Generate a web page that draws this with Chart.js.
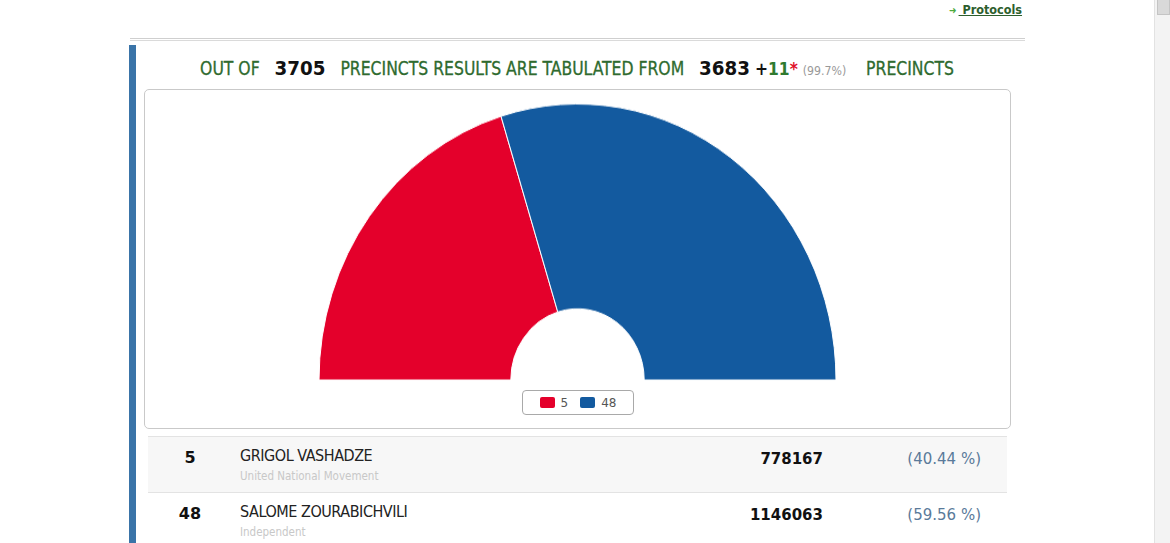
<!DOCTYPE html>
<html>
<head>
<meta charset="utf-8">
<script src="https://cdn.jsdelivr.net/npm/chart.js@4/dist/chart.umd.min.js"></script>
<style>
  html, body { margin:0; padding:0; background:#fff; width:1170px; height:543px; overflow:hidden; }
  body { position:relative; font-family:"DejaVu Sans", sans-serif; }
  .abs { position:absolute; }
  #scroll { left:1154px; top:0; width:16px; height:543px; background:#f3f3f3; border-left:1px solid #e2e2e2; }
  #thumb { left:1157px; top:0; width:11px; height:14px; background:#d9d9d9; border:1px solid #c4c4c4; border-top:none; }
  #protocols { left:949px; top:2px; font:bold 12.5px "DejaVu Sans Condensed", "DejaVu Sans", sans-serif; color:#2d5e2d; }
  #protocols .arr { color:#4caa3c; font-size:10px; margin-right:2px; }
  #protocols u { text-decoration-color:#2d5e2d; }
  #rule1 { left:130px; top:38px; width:895px; height:0; border-top:1px solid #cfcfcf; }
  #rule2 { left:130px; top:40px; width:895px; height:0; border-top:1px solid #dadada; }
  #sidebar { left:129px; top:45px; width:7px; height:498px; background:#3a74a8; }
  #header { left:144px; top:56px; width:866px; text-align:center; white-space:nowrap; transform:scaleX(0.915); transform-origin:50% 50%;
            font-family:"DejaVu Sans Condensed", sans-serif; font-size:19px; color:#2f6b2f; -webkit-text-stroke:0.3px #2f6b2f; }
  #header b.big { color:#111; font-family:"DejaVu Sans", sans-serif; font-size:20px; -webkit-text-stroke:0; }
  #header .plus { color:#111; font-weight:bold; font-family:"DejaVu Sans", sans-serif; font-size:17px; -webkit-text-stroke:0; }
  #header .g { color:#2f7a2f; font-weight:bold; font-family:"DejaVu Sans", sans-serif; font-size:17px; -webkit-text-stroke:0; }
  #header .star { color:#e0102a; font-weight:bold; font-family:"DejaVu Sans", sans-serif; font-size:17px; -webkit-text-stroke:0; }
  #header .pct { color:#999; font-family:"DejaVu Sans", sans-serif; font-size:12px; -webkit-text-stroke:0; }
  #box { left:144px; top:89px; width:865px; height:338px; border:1px solid #c9c9c9; border-radius:5px; }
  #chartWrap { left:318px; top:120px; width:519px; height:259.5px; transform:scaleY(1.064); transform-origin:50% 100%; }
  #legend { left:522px; top:390px; width:110px; height:23px; border:1px solid #a9a9a9; border-radius:4px;
            font-size:12px; color:#555; display:flex; align-items:center; justify-content:center; gap:0; }
  #legend .it { display:flex; align-items:center; margin:0 6px; }
  #legend .sw { width:15px; height:11px; border-radius:2px; margin-right:6px; }
  .row { position:absolute; left:148px; width:859px; height:56px; }
  .num { position:absolute; left:160px; width:60px; text-align:center; font-weight:bold; font-size:16px; color:#111; }
  .name { position:absolute; left:240px; font-family:"DejaVu Sans Condensed", sans-serif; font-size:16px; color:#222; letter-spacing:-0.45px; }
  .party { position:absolute; left:240px; font-family:"DejaVu Sans Condensed", sans-serif; font-size:11.5px; color:#c8c8c8; }
  .votes { position:absolute; left:700px; width:123px; text-align:right; font-weight:bold; font-size:15px; color:#111; }
  .pcts { position:absolute; left:880px; width:101px; text-align:right; font-size:15px; color:#5a7a9a; }
</style>
</head>
<body>
<div id="scroll" class="abs"></div>
<div id="thumb" class="abs"></div>
<div id="protocols" class="abs"><span class="arr">&#10140;</span><u>&nbsp;Protocols</u></div>
<div id="rule1" class="abs"></div>
<div id="rule2" class="abs"></div>
<div id="sidebar" class="abs"></div>
<div id="header" class="abs"></div>
<div id="box" class="abs"></div>
<div id="chartWrap" class="abs"><canvas id="resultChart"></canvas></div>
<div id="legend" class="abs"></div>
<div id="table"></div>

<script>
// precinct counts in the header
const precinctsTotal = 3705;
const precinctsTabulated = 3683;
const precinctsExtra = 11;
const precinctsPercent = '99.7%';

// candidates
const candidateNumbers = ['5', '48'];
const candidateNames = ['GRIGOL VASHADZE', 'SALOME ZOURABICHVILI'];
const candidateParties = ['United National Movement', 'Independent'];
const candidateVotes = [778167, 1146063];
const candidatePercents = ['40.44', '59.56'];
const sliceColors = ['#e4002b', '#135a9f'];

document.getElementById('header').innerHTML =
  'OUT OF&nbsp;&nbsp; <b class="big">' + precinctsTotal + '</b>&nbsp;&nbsp; PRECINCTS RESULTS ARE TABULATED FROM&nbsp;&nbsp; ' +
  '<b class="big">' + precinctsTabulated + '</b> <span class="plus">+</span><span class="g">' + precinctsExtra +
  '</span><span class="star">*</span> <span class="pct">(' + precinctsPercent + ')</span>&nbsp;&nbsp;&nbsp; PRECINCTS';

// legend
let lg = '';
for (let i = 0; i < candidateNumbers.length; i++) {
  lg += '<span class="it"><span class="sw" style="background:' + sliceColors[i] + '"></span>' + candidateNumbers[i] + '</span>';
}
document.getElementById('legend').innerHTML = lg;

// table rows
let rows = '';
const rowTops = [436, 492];
for (let i = 0; i < candidateNames.length; i++) {
  let t = rowTops[i];
  let bg = i % 2 == 0 ? '#f7f7f7' : '#fff';
  rows += '<div class="row" style="top:' + t + 'px;background:' + bg + ';border-top:1px solid #e3e3e3"></div>';
  rows += '<div class="num" style="top:' + (t + 12) + 'px">' + candidateNumbers[i] + '</div>';
  rows += '<div class="name" style="top:' + (t + 10) + 'px">' + candidateNames[i] + '</div>';
  rows += '<div class="party" style="top:' + (t + 33) + 'px">' + candidateParties[i] + '</div>';
  rows += '<div class="votes" style="top:' + (t + 14) + 'px">' + candidateVotes[i] + '</div>';
  rows += '<div class="pcts" style="top:' + (t + 14) + 'px">(' + candidatePercents[i] + ' %)</div>';
}
document.getElementById('table').innerHTML = rows;

const data = {
  labels: candidateNumbers,
  datasets: [{
    data: candidateVotes,
    backgroundColor: sliceColors,
    borderColor: '#ffffff',
    borderWidth: 1
  }]
};
const config = {
  type: 'doughnut',
  data: data,
  options: {
    responsive: true,
    maintainAspectRatio: false,
    animation: false,
    rotation: -90,
    circumference: 180,
    cutout: '25.8%',
    layout: { padding: 0 },
    plugins: {
      legend: { display: false },
      tooltip: { enabled: false }
    }
  }
};
let c = document.getElementById('resultChart').getContext('2d');
new Chart(c, config);
</script>
</body>
</html>
